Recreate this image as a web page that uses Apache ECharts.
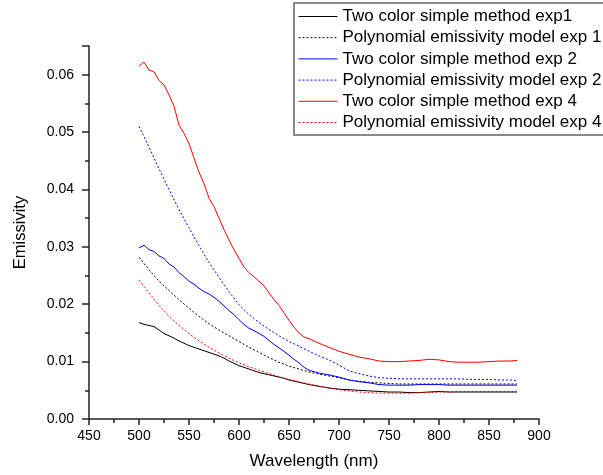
<!DOCTYPE html>
<html>
<head>
<meta charset="utf-8">
<script src="https://cdn.jsdelivr.net/npm/echarts@6/dist/echarts.min.js"></script>
<style>html,body{margin:0;padding:0;background:#fff}#c{width:603px;height:475px}</style>
</head>
<body>
<div id="c"></div>
<script>
// Wavelength grids (nm)
var wlSolid = [500,505,510,515,520,525,530,535,540,545,550,555,560,565,570,575,580,585,590,595,600,605,610,615,620,625,630,635,640,645,650,655,660,665,670,
  680,690,700,710,720,730,740,750,760,770,780,790,800,810,820,830,840,850,860,870,878];
var wlPoly = [500,510,520,530,540,550,560,570,580,590,600,610,620,630,640,650,660,670,680,690,700,710,720,730,740,750,760,770,780,790,800,810,820,830,840,850,860,870,878];

var seriesNames = [
  'Two color simple method exp1',
  'Polynomial emissivity model exp 1',
  'Two color simple method exp 2',
  'Polynomial emissivity model exp 2',
  'Two color simple method exp 4',
  'Polynomial emissivity model exp 4'
];

var twoColorExp1 = [0.0168,0.0165,0.0163,0.0161,0.0155,0.0149,0.0145,0.0141,0.0136,0.0132,0.0128,0.0125,0.0122,0.0119,0.0116,0.0113,0.0110,0.0106,0.0101,0.0097,0.0093,0.0090,0.0087,0.0084,0.0081,0.0079,0.0077,0.0075,0.0073,0.0071,0.0068,0.0066,0.0064,0.0062,0.0060,
  0.0057,0.0054,0.0052,0.0051,0.0050,0.0049,0.0048,0.0047,0.0047,0.0046,0.0046,0.0047,0.0048,0.0047,0.0047,0.0047,0.0047,0.0047,0.0047,0.0047,0.0047];
var twoColorExp2 = [0.0298,0.0303,0.0295,0.0292,0.0284,0.0280,0.0270,0.0265,0.0255,0.0248,0.0240,0.0235,0.0228,0.0222,0.0218,0.0212,0.0205,0.0197,0.0189,0.0182,0.0173,0.0165,0.0158,0.0154,0.0149,0.0144,0.0137,0.0130,0.0124,0.0118,0.0111,0.0104,0.0098,0.0090,0.0085,
  0.0080,0.0077,0.0073,0.0068,0.0065,0.0063,0.0060,0.0059,0.0059,0.0059,0.0060,0.0060,0.0060,0.0059,0.0059,0.0059,0.0059,0.0059,0.0059,0.0059,0.0059];
var twoColorExp4 = [0.0615,0.0622,0.0608,0.0605,0.0590,0.0582,0.0565,0.0545,0.0512,0.0498,0.0480,0.0455,0.0430,0.0410,0.0385,0.0370,0.0350,0.0330,0.0312,0.0295,0.0280,0.0265,0.0255,0.0248,0.0240,0.0232,0.0220,0.0208,0.0198,0.0185,0.0172,0.0160,0.0150,0.0143,0.0140,
  0.0132,0.0125,0.0118,0.0113,0.0108,0.0105,0.0101,0.0100,0.0100,0.0101,0.0102,0.0104,0.0103,0.0100,0.0099,0.0099,0.0099,0.0100,0.0101,0.0101,0.0102];

var polyExp1 = [0.0282,0.0260,0.0240,0.0224,0.0208,0.0193,0.0179,0.0166,0.0155,0.0145,0.0135,0.0125,0.0116,0.0107,0.0099,0.0092,0.0087,0.0082,0.0078,0.0075,0.0072,0.0068,0.0066,0.0064,0.0063,0.0062,0.0061,0.0061,0.0061,0.0061,0.0061,0.0061,0.0061,0.0061,0.0061,0.0061,0.0061,0.0061,0.0061];
var polyExp2 = [0.0510,0.0474,0.0436,0.0400,0.0365,0.0333,0.0302,0.0273,0.0247,0.0222,0.0199,0.0182,0.0168,0.0156,0.0145,0.0135,0.0127,0.0118,0.0110,0.0103,0.0094,0.0084,0.0079,0.0075,0.0072,0.0071,0.0070,0.0070,0.0070,0.0070,0.0070,0.0070,0.0070,0.0069,0.0069,0.0069,0.0068,0.0068,0.0067];
var polyExp4 = [0.0242,0.0220,0.0198,0.0179,0.0163,0.0149,0.0136,0.0125,0.0115,0.0106,0.0098,0.0091,0.0085,0.0079,0.0074,0.0069,0.0065,0.0061,0.0057,0.0054,0.0051,0.0049,0.0047,0.0046,0.0045,0.0045,0.0045,0.0045,0.0046,0.0046,0.0047,0.0047,0.0048,0.0048,0.0048,0.0048,0.0048,0.0048,0.0048];

function pairs(xs, ys){ return xs.map(function(x,i){ return [x, ys[i]]; }); }

var FONT = 'Arial, "Liberation Sans", sans-serif';
function mk(name, xs, ys, color, dotted){
  return {
    name: name, type: 'line', data: pairs(xs, ys), symbol: 'none', showSymbol: false,
    animation: false, silent: true,
    lineStyle: { color: color, width: 1, type: dotted ? [2,2] : 'solid' },
    itemStyle: { color: color }
  };
}

var chart = echarts.init(document.getElementById('c'), null, {renderer: 'canvas'});
chart.setOption({
  animation: false,
  backgroundColor: '#ffffff',
  grid: { left: 89, right: 64, top: 46, bottom: 55.5, containLabel: false },
  legend: {
    orient: 'vertical', left: 294, top: 3,
    padding: [5, 14, 4, 4],
    itemWidth: 39, itemHeight: 10, itemGap: 4.2,
    borderColor: '#8a8a8a', borderWidth: 2, backgroundColor: '#fff',
    itemStyle: { opacity: 0 },
    lineStyle: { width: 1 },
    textStyle: { fontFamily: FONT, fontSize: 17, lineHeight: 17, color: '#000' },
    data: seriesNames
  },
  xAxis: {
    type: 'value', min: 450, max: 900, interval: 50,
    name: 'Wavelength (nm)', nameLocation: 'middle', nameGap: 34,
    nameTextStyle: { fontFamily: FONT, fontSize: 17, color: '#000' },
    axisLine: { show: true, onZero: false, lineStyle: { color: '#222', width: 1.5 } },
    axisTick: { show: true, length: 6, lineStyle: { color: '#222', width: 1.5 } },
    minorTick: { show: true, splitNumber: 2, length: 4, lineStyle: { color: '#222', width: 1.5 } },
    axisLabel: { fontFamily: FONT, fontSize: 14, color: '#000', margin: 10 },
    splitLine: { show: false }
  },
  yAxis: {
    type: 'value', min: 0, max: 0.065, interval: 0.01,
    name: 'Emissivity', nameLocation: 'middle', nameGap: 60,
    nameTextStyle: { fontFamily: FONT, fontSize: 16.5, color: '#000' },
    axisLine: { show: true, onZero: false, lineStyle: { color: '#222', width: 1.5 } },
    axisTick: { show: true, length: 7, lineStyle: { color: '#222', width: 1.5 } },
    minorTick: { show: true, splitNumber: 2, length: 4, lineStyle: { color: '#222', width: 1.5 } },
    axisLabel: { fontFamily: FONT, fontSize: 14, color: '#000', margin: 15, showMaxLabel: false,
      formatter: function(v){ return v.toFixed(2); } },
    splitLine: { show: false }
  },
  series: [
    mk(seriesNames[0], wlSolid, twoColorExp1, '#000000', false),
    mk(seriesNames[1], wlPoly, polyExp1, '#000000', true),
    mk(seriesNames[2], wlSolid, twoColorExp2, '#0000ff', false),
    mk(seriesNames[3], wlPoly, polyExp2, '#0000ff', true),
    mk(seriesNames[4], wlSolid, twoColorExp4, '#ff0000', false),
    mk(seriesNames[5], wlPoly, polyExp4, '#ff0000', true)
  ]
});
</script>
</body>
</html>
